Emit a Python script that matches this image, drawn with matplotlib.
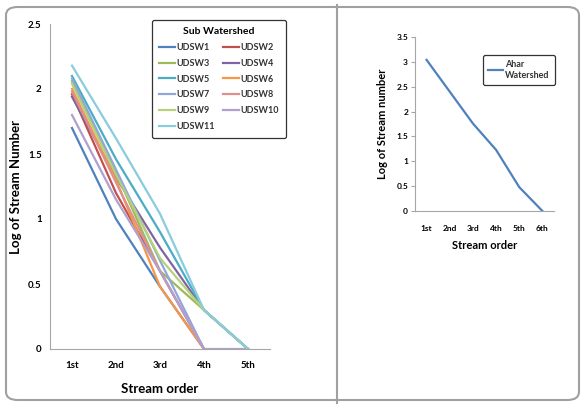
import matplotlib.pyplot as plt
from matplotlib.patches import FancyBboxPatch
from matplotlib.lines import Line2D

plt.rcParams["font.family"] = ["Lato", "DejaVu Sans"]

orders5 = ["1st", "2nd", "3rd", "4th", "5th"]
orders6 = ["1st", "2nd", "3rd", "4th", "5th", "6th"]

# log of stream number per sub watershed (None = no stream of that order)
udsw1 = [1.70, 1.00, 0.48, 0.00, None]
udsw2 = [1.96, 1.20, 0.60, 0.00, None]
udsw3 = [2.06, 1.36, 0.60, 0.30, 0.00]
udsw4 = [1.94, 1.32, 0.78, 0.30, 0.00]
udsw5 = [2.10, 1.46, 0.90, 0.30, 0.00]
udsw6 = [2.00, 1.30, 0.48, 0.00, None]
udsw7 = [2.08, 1.38, 0.68, 0.00, None]
udsw8 = [1.98, 1.28, 0.60, 0.00, None]
udsw9 = [2.04, 1.34, 0.70, 0.30, 0.00]
udsw10 = [1.80, 1.15, 0.60, 0.00, 0.00]
udsw11 = [2.18, 1.62, 1.04, 0.30, 0.00]

ahar = [3.04, 2.40, 1.76, 1.23, 0.48, 0.00]

series = [
    ("UDSW1", udsw1, "#4F81BD"),
    ("UDSW2", udsw2, "#C0504D"),
    ("UDSW3", udsw3, "#9BBB59"),
    ("UDSW4", udsw4, "#8064A2"),
    ("UDSW5", udsw5, "#4BACC6"),
    ("UDSW6", udsw6, "#F79646"),
    ("UDSW7", udsw7, "#8FA8DC"),
    ("UDSW8", udsw8, "#E0908C"),
    ("UDSW9", udsw9, "#B5D27A"),
    ("UDSW10", udsw10, "#B09FCF"),
    ("UDSW11", udsw11, "#8ACCDE"),
]

W, H = 582, 405
fig = plt.figure(figsize=(W / 100, H / 100), dpi=100)

# outer frame + divider
frame = FancyBboxPatch((6 / W, 5 / H), 573 / W, 393 / H,
                       boxstyle="round,pad=0,rounding_size=0.02",
                       transform=fig.transFigure, fill=False,
                       edgecolor="#A0A0A0", linewidth=1.5)
fig.patches.append(frame)
fig.add_artist(Line2D([337 / W, 337 / W], [2 / H, 400 / H],
                      transform=fig.transFigure, color="#A0A0A0", lw=1.5))

axis_col = "#A6A6A6"

# Left chart
ax1 = fig.add_axes([50 / W, 1 - 349 / H, 220 / W, 325 / H])
handles = []
for name, vals, col in series:
    xs = [i for i, v in enumerate(vals) if v is not None]
    ys = [v for v in vals if v is not None]
    ln, = ax1.plot(xs, ys, color=col, lw=1.6, label=name)
    handles.append(ln)
ax1.set_xlim(-0.5, 4.5)
ax1.set_ylim(0, 2.5)
ax1.set_yticks([0, 0.5, 1, 1.5, 2, 2.5])
ax1.set_yticklabels(["0", "0.5", "1", "1.5", "2", "2.5"])
ax1.set_xticks(range(5))
ax1.set_xticklabels(orders5)
ax1.tick_params(length=0, labelsize=7, pad=6)
ax1.tick_params(axis="x", pad=9)
for lbl in ax1.get_xticklabels() + ax1.get_yticklabels():
    lbl.set_fontweight("bold")
for s in ["top", "right"]:
    ax1.spines[s].set_visible(False)
for s in ["left", "bottom"]:
    ax1.spines[s].set_color(axis_col)
ax1.set_xlabel("Stream order", fontsize=9.5, fontweight="bold", labelpad=9)
ax1.set_ylabel("Log of Stream Number", fontsize=9.5, fontweight="bold", labelpad=4)

# row-wise order like the original legend
order = [0, 2, 4, 6, 8, 10, 1, 3, 5, 7, 9]
leg1 = ax1.legend([handles[i] for i in order], [series[i][0] for i in order],
                  ncol=2, loc="upper left", bbox_to_anchor=(152 / W, 1 - 20 / H),
                  bbox_transform=fig.transFigure, borderaxespad=0,
                  title="Sub Watershed", fontsize=6.5, handlelength=1.8,
                  columnspacing=0.9, handletextpad=0.1, labelspacing=0.75,
                  fancybox=True, edgecolor="#333333", framealpha=1,
                  borderpad=0.8)
leg1.get_title().set_fontweight("bold")
leg1.get_title().set_fontsize(7.5)
leg1.get_frame().set_linewidth(0.9)
for t in leg1.get_texts():
    t.set_fontweight("bold")
    t.set_color("#333333")

# Right chart
ax2 = fig.add_axes([415 / W, 1 - 211 / H, 139 / W, 174 / H])
ax2.plot(range(6), ahar, color="#4F81BD", lw=1.6, label="Ahar\nWatershed")
ax2.set_xlim(-0.5, 5.5)
ax2.set_ylim(0, 3.5)
ax2.set_yticks([0, 0.5, 1, 1.5, 2, 2.5, 3, 3.5])
ax2.set_yticklabels(["0", "0.5", "1", "1.5", "2", "2.5", "3", "3.5"])
ax2.set_xticks(range(6))
ax2.set_xticklabels(orders6)
ax2.tick_params(axis="y", length=3, color=axis_col, labelsize=6, pad=2)
ax2.tick_params(axis="x", length=0, labelsize=6, pad=10)
for lbl in ax2.get_xticklabels() + ax2.get_yticklabels():
    lbl.set_fontweight("bold")
for s in ["top", "right"]:
    ax2.spines[s].set_visible(False)
for s in ["left", "bottom"]:
    ax2.spines[s].set_color(axis_col)
ax2.set_xlabel("Stream order", fontsize=8, fontweight="bold", labelpad=6)
ax2.set_ylabel("Log of Stream number", fontsize=8, fontweight="bold", labelpad=6)

leg2 = ax2.legend(loc="upper left", bbox_to_anchor=(483 / W, 1 - 55 / H),
                  bbox_transform=fig.transFigure, borderaxespad=0,
                  fontsize=6.5, handlelength=1.6, handletextpad=0.2,
                  fancybox=True, edgecolor="#333333", framealpha=1,
                  borderpad=0.6)
leg2.get_frame().set_linewidth(0.9)
for t in leg2.get_texts():
    t.set_fontweight("bold")
    t.set_color("#333333")

fig.savefig("out.png", dpi=100)
